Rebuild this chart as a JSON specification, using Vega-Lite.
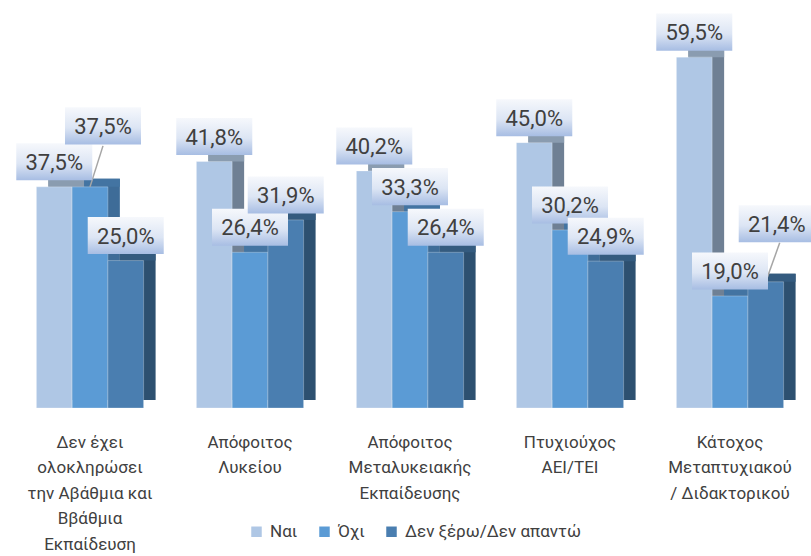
{
  "$schema": "https://vega.github.io/schema/vega-lite/v6.json",
  "width": 800,
  "height": 401,
  "autosize": {"type": "none"},
  "padding": {"left": 10, "top": 7, "right": 1, "bottom": 148},
  "background": "white",
  "config": {"view": {"stroke": null}},
  "data": {
    "values": [
      {"cat": "Δεν έχει\nολοκληρώσει\nτην Αβάθμια και\nΒβάθμια\nΕκπαίδευση", "series": "Ναι", "value": 37.5},
      {"cat": "Δεν έχει\nολοκληρώσει\nτην Αβάθμια και\nΒβάθμια\nΕκπαίδευση", "series": "Όχι", "value": 37.5},
      {"cat": "Δεν έχει\nολοκληρώσει\nτην Αβάθμια και\nΒβάθμια\nΕκπαίδευση", "series": "Δεν ξέρω/Δεν απαντώ", "value": 25.0},
      {"cat": "Απόφοιτος\nΛυκείου", "series": "Ναι", "value": 41.8},
      {"cat": "Απόφοιτος\nΛυκείου", "series": "Όχι", "value": 26.4},
      {"cat": "Απόφοιτος\nΛυκείου", "series": "Δεν ξέρω/Δεν απαντώ", "value": 31.9},
      {"cat": "Απόφοιτος\nΜεταλυκειακής\nΕκπαίδευσης", "series": "Ναι", "value": 40.2},
      {"cat": "Απόφοιτος\nΜεταλυκειακής\nΕκπαίδευσης", "series": "Όχι", "value": 33.3},
      {"cat": "Απόφοιτος\nΜεταλυκειακής\nΕκπαίδευσης", "series": "Δεν ξέρω/Δεν απαντώ", "value": 26.4},
      {"cat": "Πτυχιούχος\nΑΕΙ/ΤΕΙ", "series": "Ναι", "value": 45.0},
      {"cat": "Πτυχιούχος\nΑΕΙ/ΤΕΙ", "series": "Όχι", "value": 30.2},
      {"cat": "Πτυχιούχος\nΑΕΙ/ΤΕΙ", "series": "Δεν ξέρω/Δεν απαντώ", "value": 24.9},
      {"cat": "Κάτοχος\nΜεταπτυχιακού\n/ Διδακτορικού", "series": "Ναι", "value": 59.5},
      {"cat": "Κάτοχος\nΜεταπτυχιακού\n/ Διδακτορικού", "series": "Όχι", "value": 19.0},
      {"cat": "Κάτοχος\nΜεταπτυχιακού\n/ Διδακτορικού", "series": "Δεν ξέρω/Δεν απαντώ", "value": 21.4}
    ]
  },
  "transform": [
    {"calculate": "replace(format(datum.value, '.1f'), '.', ',') + '%'", "as": "label"}
  ],
  "encoding": {
    "x": {
      "field": "cat",
      "type": "nominal",
      "sort": null,
      "title": null,
      "scale": {"paddingInner": 0.33, "paddingOuter": 0.165},
      "axis": {
        "domain": false,
        "ticks": false,
        "labelAngle": 0,
        "labelPadding": 26,
        "labelFont": "Roboto",
        "labelFontSize": 17,
        "labelColor": "#404040",
        "labelLineHeight": 25.5,
        "labelOverlap": false,
        "labelBound": false,
        "labelLimit": 0,
        "labelExpr": "split(datum.value, '\\n')"
      }
    },
    "y": {
      "field": "value",
      "type": "quantitative",
      "scale": {"domain": [0, 68], "nice": false, "zero": true},
      "axis": null
    }
  },
  "layer": [
    {
      "mark": {"type": "bar", "yOffset": -8, "y2Offset": -8},
      "encoding": {
        "xOffset": {"field": "series", "type": "nominal", "scale": {"domain": ["Ναι", "Όχι", "Δεν ξέρω/Δεν απαντώ"], "range": [12, 119.2]}},
        "color": {"field": "series", "type": "nominal", "scale": {"domain": ["Ναι", "Όχι", "Δεν ξέρω/Δεν απαντώ"], "range": ["#6F8094", "#3E6C98", "#2D5070"]}, "legend": null}
      }
    },
    {
      "mark": {"type": "bar", "yOffset": -8, "y2Offset": 0},
      "encoding": {
        "xOffset": {"field": "series", "type": "nominal", "scale": {"domain": ["Ναι", "Όχι", "Δεν ξέρω/Δεν απαντώ"], "range": [12, 119.2]}},
        "y2": {"field": "value"},
        "color": {"field": "series", "type": "nominal", "scale": {"domain": ["Ναι", "Όχι", "Δεν ξέρω/Δεν απαντώ"], "range": ["#8A9CB0", "#4374A2", "#345B7F"]}, "legend": null}
      }
    },
    {
      "mark": {"type": "bar", "stroke": "#ffffff", "strokeOpacity": 0.35, "strokeWidth": 0.8},
      "encoding": {
        "xOffset": {"field": "series", "type": "nominal", "scale": {"domain": ["Ναι", "Όχι", "Δεν ξέρω/Δεν απαντώ"]}},
        "color": {
          "field": "series",
          "type": "nominal",
          "scale": {"domain": ["Ναι", "Όχι", "Δεν ξέρω/Δεν απαντώ"], "range": ["#AFC7E5", "#5B9BD5", "#4A7EB0"]},
          "legend": {
            "orient": "none",
            "legendX": 238,
            "legendY": 516,
            "direction": "horizontal",
            "title": null,
            "symbolType": "square",
            "symbolSize": 110,
            "symbolStrokeWidth": 0,
            "labelFont": "Roboto",
            "labelFontSize": 17,
            "labelColor": "#404040",
            "labelOffset": 5,
            "columnPadding": 18,
            "labelLimit": 0
          }
        }
      }
    },
    {
      "transform": [{"filter": "datum.series == 'Όχι' && datum.value == 37.5"}],
      "mark": {"type": "point", "shape": "M0,0L0.342,-1.079", "size": 5776, "filled": false, "stroke": "#A6A6A6", "strokeWidth": 1.5, "opacity": 1},
      "encoding": {"xOffset": {"field": "series", "type": "nominal", "scale": {"domain": ["Ναι", "Όχι", "Δεν ξέρω/Δεν απαντώ"]}}}
    },
    {
      "transform": [{"filter": "datum.series == 'Δεν ξέρω/Δεν απαντώ' && datum.value == 21.4"}],
      "mark": {"type": "point", "shape": "M0,0L0.368,-1.026", "size": 5776, "filled": false, "stroke": "#A6A6A6", "strokeWidth": 1.5, "opacity": 1},
      "encoding": {"xOffset": {"field": "series", "type": "nominal", "scale": {"domain": ["Ναι", "Όχι", "Δεν ξέρω/Δεν απαντώ"]}}}
    },
    {
      "transform": [{"filter": "!((datum.series == 'Όχι' && datum.value == 37.5) || (datum.series == 'Δεν ξέρω/Δεν απαντώ' && datum.value == 21.4))"}],
      "mark": {
        "type": "point",
        "shape": "M-1,-0.487L1,-0.487L1,0.487L-1,0.487Z",
        "size": 5776,
        "filled": true,
        "opacity": 1,
        "yOffset": -25,
        "strokeWidth": 0,
        "fill": {"gradient": "linear", "x1": 0, "y1": 0, "x2": 0, "y2": 1, "stops": [{"offset": 0, "color": "#F6F8FC"}, {"offset": 0.55, "color": "#DCE5F4"}, {"offset": 1, "color": "#A7BDE3"}]}
      },
      "encoding": {"xOffset": {"field": "series", "type": "nominal", "scale": {"domain": ["Ναι", "Όχι", "Δεν ξέρω/Δεν απαντώ"]}}}
    },
    {
      "transform": [{"filter": "datum.series == 'Όχι' && datum.value == 37.5"}],
      "mark": {
        "type": "point",
        "shape": "M-0.658,-2.092L1.342,-2.092L1.342,-1.118L-0.658,-1.118Z",
        "size": 5776,
        "filled": true,
        "opacity": 1,
        "strokeWidth": 0,
        "fill": {"gradient": "linear", "x1": 0, "y1": 0, "x2": 0, "y2": 1, "stops": [{"offset": 0, "color": "#F6F8FC"}, {"offset": 0.55, "color": "#DCE5F4"}, {"offset": 1, "color": "#A7BDE3"}]}
      },
      "encoding": {"xOffset": {"field": "series", "type": "nominal", "scale": {"domain": ["Ναι", "Όχι", "Δεν ξέρω/Δεν απαντώ"]}}}
    },
    {
      "transform": [{"filter": "datum.series == 'Δεν ξέρω/Δεν απαντώ' && datum.value == 21.4"}],
      "mark": {
        "type": "point",
        "shape": "M-0.711,-2.013L1.289,-2.013L1.289,-1.039L-0.711,-1.039Z",
        "size": 5776,
        "filled": true,
        "opacity": 1,
        "strokeWidth": 0,
        "fill": {"gradient": "linear", "x1": 0, "y1": 0, "x2": 0, "y2": 1, "stops": [{"offset": 0, "color": "#F6F8FC"}, {"offset": 0.55, "color": "#DCE5F4"}, {"offset": 1, "color": "#A7BDE3"}]}
      },
      "encoding": {"xOffset": {"field": "series", "type": "nominal", "scale": {"domain": ["Ναι", "Όχι", "Δεν ξέρω/Δεν απαντώ"]}}}
    },
    {
      "transform": [{"filter": "!((datum.series == 'Όχι' && datum.value == 37.5) || (datum.series == 'Δεν ξέρω/Δεν απαντώ' && datum.value == 21.4))"}],
      "mark": {"type": "text", "dy": -24, "font": "Roboto", "fontSize": 22, "color": "#404040", "baseline": "middle", "align": "center"},
      "encoding": {
        "xOffset": {"field": "series", "type": "nominal", "scale": {"domain": ["Ναι", "Όχι", "Δεν ξέρω/Δεν απαντώ"]}},
        "text": {"field": "label"}
      }
    },
    {
      "transform": [{"filter": "datum.series == 'Όχι' && datum.value == 37.5"}],
      "mark": {"type": "text", "dx": 13, "dy": -60, "font": "Roboto", "fontSize": 22, "color": "#404040", "baseline": "middle", "align": "center"},
      "encoding": {
        "xOffset": {"field": "series", "type": "nominal", "scale": {"domain": ["Ναι", "Όχι", "Δεν ξέρω/Δεν απαντώ"]}},
        "text": {"field": "label"}
      }
    },
    {
      "transform": [{"filter": "datum.series == 'Δεν ξέρω/Δεν απαντώ' && datum.value == 21.4"}],
      "mark": {"type": "text", "dx": 11, "dy": -57, "font": "Roboto", "fontSize": 22, "color": "#404040", "baseline": "middle", "align": "center"},
      "encoding": {
        "xOffset": {"field": "series", "type": "nominal", "scale": {"domain": ["Ναι", "Όχι", "Δεν ξέρω/Δεν απαντώ"]}},
        "text": {"field": "label"}
      }
    }
  ],
  "resolve": {"scale": {"color": "independent", "xOffset": "independent"}}
}
